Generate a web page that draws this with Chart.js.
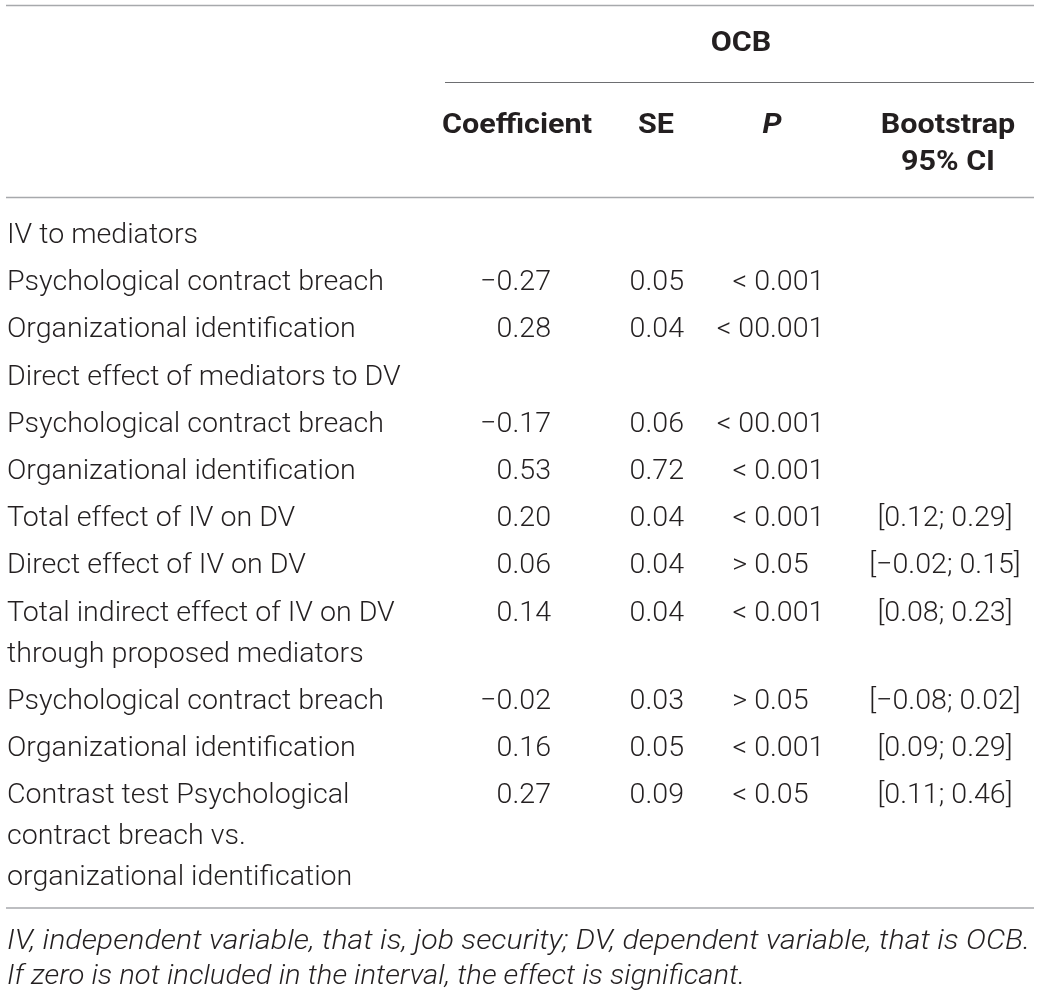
<!DOCTYPE html>
<html>
<head>
<meta charset="utf-8">
<script src="https://cdn.jsdelivr.net/npm/chart.js@4.4.1/dist/chart.umd.min.js"></script>
<style>
    html, body { margin: 0; padding: 0; background: #ffffff; }
    #wrap { position: relative; width: 1040px; height: 994px; }
</style>
</head>
<body>
<div id="wrap"><canvas id="tableChart"></canvas></div>
<script>
// Données du tableau
const groupHeader = 'OCB';
const columnHeaders = [['Coefficient'], ['SE'], ['P'], ['Bootstrap', '95% CI']];

const rowLabels = [
    ['IV to mediators'],
    ['Psychological contract breach'],
    ['Organizational identification'],
    ['Direct effect of mediators to DV'],
    ['Psychological contract breach'],
    ['Organizational identification'],
    ['Total effect of IV on DV'],
    ['Direct effect of IV on DV'],
    ['Total indirect effect of IV on DV', 'through proposed mediators'],
    ['Psychological contract breach'],
    ['Organizational identification'],
    ['Contrast test Psychological', 'contract breach vs.', 'organizational identification']
];

const coefficients = [null, -0.27, 0.28, null, -0.17, 0.53, 0.20, 0.06, 0.14, -0.02, 0.16, 0.27];
const standardErrors = [null, 0.05, 0.04, null, 0.06, 0.72, 0.04, 0.04, 0.04, 0.03, 0.05, 0.09];
const pValues = [null, '< 0.001', '< 00.001', null, '< 00.001', '< 0.001', '< 0.001', '> 0.05', '< 0.001', '> 0.05', '< 0.001', '< 0.05'];
const ciLower = [null, null, null, null, null, null, 0.12, -0.02, 0.08, -0.08, 0.09, 0.11];
const ciUpper = [null, null, null, null, null, null, 0.29, 0.15, 0.23, 0.02, 0.29, 0.46];

const footnotes = [
    'IV, independent variable, that is, job security; DV, dependent variable, that is OCB.',
    'If zero is not included in the interval, the effect is significant.'
];

// Mise en page (unités des échelles = pixels de la figure)
const FONT = '"Roboto", "Liberation Sans", Arial, sans-serif';
const INK = '#231f20';
const layout = {
    left: 7, right: 1034,
    labelX: 7, coefRight: 551, seRight: 684, pDecimal: 770, ciCenter: 945,
    headCenters: [517, 656, 772, 948],
    groupX: 741, groupY: 51, groupRuleY: 82.5, groupRuleLeft: 445,
    topRuleY: 5.5, headY: 133, headLine: 37, headRuleY: 197.5,
    firstRowY: 243, rowStep: 47.2, lineStep: 41,
    bottomRuleY: 908, noteY: 949, noteStep: 34.5,
    // largeurs visées pour caler la chasse de la police
    bodyRef: 377, headRef: 150, noteRefs: [1023, 738]
};

function fmt(v) {
    return v.toFixed(2).replace('-', '\u2212');
}

const tablePlugin = {
    id: 'tablePlugin',
    afterDraw(chart) {
        const ctx = chart.ctx;
        const xs = chart.scales.x;
        const ys = chart.scales.y;
        const px = v => xs.getPixelForValue(v);
        const py = v => ys.getPixelForValue(v);
        const span = w => px(w) - px(0);

        ctx.save();

        // Filets
        const rule = (x0, x1, y, color, w) => {
            ctx.beginPath();
            ctx.strokeStyle = color;
            ctx.lineWidth = w;
            ctx.moveTo(px(x0), py(y));
            ctx.lineTo(px(x1), py(y));
            ctx.stroke();
        };
        rule(layout.left - 1, layout.right, layout.topRuleY, '#a7a9ac', 1.6);
        rule(layout.groupRuleLeft, layout.right, layout.groupRuleY, '#6d6e71', 1.2);
        rule(layout.left - 1, layout.right, layout.headRuleY, '#a7a9ac', 1.6);
        rule(layout.left - 1, layout.right, layout.bottomRuleY, '#a7a9ac', 1.6);

        ctx.fillStyle = INK;
        ctx.textBaseline = 'alphabetic';

        // texte étiré horizontalement autour de son point d'ancrage
        let sx = 1;
        const text = (t, x, y, align) => {
            ctx.save();
            ctx.textAlign = align;
            ctx.translate(px(x), py(y));
            ctx.scale(sx, 1);
            ctx.fillText(t, 0, 0);
            ctx.restore();
        };

        // En-têtes
        ctx.font = '700 27px ' + FONT;
        sx = span(layout.headRef) / ctx.measureText('Coefficient').width;
        text(groupHeader, layout.groupX, layout.groupY, 'center');
        columnHeaders.forEach((lines, i) => {
            ctx.font = (i === 2 ? 'italic ' : '') + '700 27px ' + FONT;
            lines.forEach((t, k) => text(t, layout.headCenters[i], layout.headY + k * layout.headLine, 'center'));
        });

        // Corps du tableau
        ctx.font = '300 28px ' + FONT;
        sx = span(layout.bodyRef) / ctx.measureText(rowLabels[1][0]).width;
        let y = layout.firstRowY;
        rowLabels.forEach((lines, r) => {
            lines.forEach((t, k) => text(t, layout.labelX, y + k * layout.lineStep, 'left'));

            if (coefficients[r] !== null) text(fmt(coefficients[r]), layout.coefRight, y, 'right');
            if (standardErrors[r] !== null) text(fmt(standardErrors[r]), layout.seRight, y, 'right');

            if (pValues[r] !== null) {
                // alignement sur le point décimal
                const s = pValues[r];
                const dot = s.indexOf('.');
                text(s.slice(0, dot), layout.pDecimal, y, 'right');
                text(s.slice(dot), layout.pDecimal, y, 'left');
            }

            if (ciLower[r] !== null) {
                text('[' + fmt(ciLower[r]) + '; ' + fmt(ciUpper[r]) + ']', layout.ciCenter, y, 'center');
            }

            y += (lines.length - 1) * layout.lineStep + layout.rowStep;
        });

        // Notes
        ctx.font = 'italic 300 27px ' + FONT;
        footnotes.forEach((t, k) => {
            sx = span(layout.noteRefs[k]) / ctx.measureText(t).width;
            text(t, layout.labelX, layout.noteY + k * layout.noteStep, 'left');
        });

        ctx.restore();
    }
};

new Chart(document.getElementById('tableChart'), {
    type: 'scatter',
    data: { datasets: [] },
    options: {
        responsive: true,
        maintainAspectRatio: false,
        animation: false,
        layout: { padding: 0 },
        plugins: { legend: { display: false }, tooltip: { enabled: false } },
        scales: {
            x: { type: 'linear', min: 0, max: 1040, display: false },
            y: { type: 'linear', min: 0, max: 994, reverse: true, display: false }
        }
    },
    plugins: [tablePlugin]
});
</script>
</body>
</html>
